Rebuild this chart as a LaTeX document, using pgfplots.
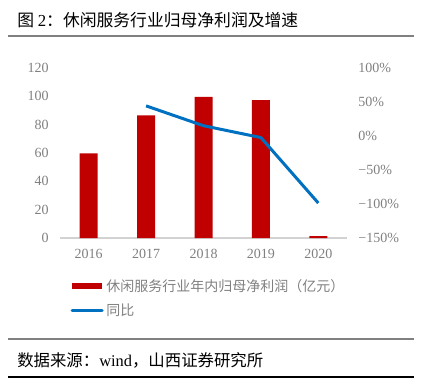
\documentclass[border=0pt]{standalone}
\usepackage{fontspec}
\setmainfont{Liberation Serif}
\newfontfamily\cjk{Noto Sans CJK SC}
\usepackage{pgfplots}
\pgfplotsset{compat=1.18}
\definecolor{barred}{HTML}{C00000}
\definecolor{lineblue}{HTML}{0070C0}
\definecolor{ticklab}{HTML}{808080}
\definecolor{rulegray}{HTML}{808080}
\begin{document}
\begin{tikzpicture}[x=0.75pt,y=0.75pt]
\path (0,0) rectangle (423,386);
\coordinate (O) at (60,148);
\node[anchor=west,inner sep=0pt,font=\fontsize{12.6}{14}\selectfont] at (17,366) {{\cjk 图 }2{\cjk ：休闲服务行业归母净利润及增速}};
\draw[rulegray, line width=1.2pt] (8,350) -- (414,350);
\begin{axis}[at={(O)}, anchor=south west,
  scale only axis, width=215.25pt, height=127.5pt,
  xmin=-0.5, xmax=4.5, ymin=0, ymax=120,
  ytick={0,20,...,120}, xtick={0,1,2,3,4},
  xticklabels={2016,2017,2018,2019,2020},
  axis x line*=bottom, axis y line*=left,
  y axis line style={draw=none},
  x axis line style={draw=gray!35, line width=0.8pt, -},
  tick style={draw=none},
  ticklabel style={text=ticklab, font=\fontsize{10.5}{12}\selectfont},
  /pgf/number format/assume math mode=true,
  yticklabel style={anchor=east, xshift=-5pt},
  xticklabel style={yshift=-5pt},
  legend style={at={(0.022,-0.21)}, anchor=north west, draw=none, fill=none,
    font=\fontsize{10.5}{12}\selectfont, text=ticklab, row sep=4pt,
    /tikz/every even column/.append style={column sep=0pt}},
  legend cell align=left,
]
\addplot[ybar, bar width=13.5pt, fill=barred, draw=none,
  legend image code/.code={\fill[barred] (0pt,-2.3pt) rectangle (22.5pt,2.3pt);}]
  coordinates {(0,59.8) (1,86.6) (2,99.7) (3,97.4) (4,1.4)};
\addlegendentry{\cjk 休闲服务行业年内归母净利润（亿元）}
\addlegendimage{legend image code/.code={\draw[lineblue,line width=2.25pt,line cap=round] (0pt,0pt) -- (22.5pt,0pt);}}
\addlegendentry{\cjk 同比}
\end{axis}
\begin{axis}[at={(O)}, anchor=south west,
  scale only axis, width=215.25pt, height=127.5pt,
  xmin=-0.5, xmax=4.5, ymin=-150, ymax=100,
  ytick={-150,-100,-50,0,50,100},
  yticklabels={−150\%,−100\%,−50\%,0\%,50\%,100\%},
  axis x line=none, axis y line*=right,
  y axis line style={draw=none},
  tick style={draw=none},
  ticklabel style={text=ticklab, font=\fontsize{10.5}{12}\selectfont},
  yticklabel style={anchor=west, xshift=5pt},
]
\addplot[lineblue, line width=2.25pt, line join=round] coordinates {(1,44.3) (2,15.1) (3,-2.3) (4,-98.6)};
\end{axis}
\draw[rulegray, line width=1.2pt] (8,47) -- (414,47);
\node[anchor=west,inner sep=0pt,font=\fontsize{12.3}{14}\selectfont] at (17,26) {{\cjk 数据来源：}wind{\cjk ，山西证券研究所}};
\draw[black, line width=0.8pt] (8,9) -- (414,9);
\end{tikzpicture}
\end{document}
